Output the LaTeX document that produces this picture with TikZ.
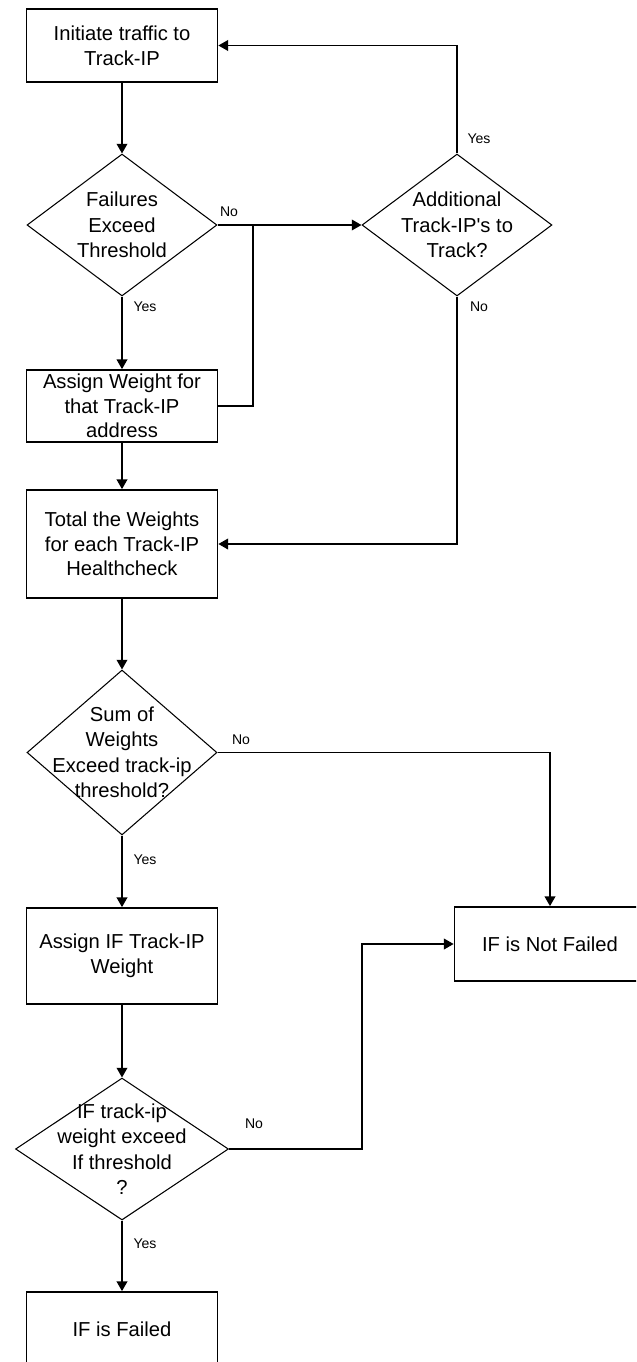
\documentclass[tikz,border=0pt]{standalone}
\usepackage{fontspec}
\setmainfont{Liberation Sans}
\usetikzlibrary{arrows.meta}
\usetikzlibrary{shapes.geometric}

\begin{document}
\begin{tikzpicture}[x=0.02cm,y=-0.02cm]
  \tikzset{%
  tipF/.tip={Triangle[length=5.5pt,width=6pt]},
}
  \tikzset{box/.style = {shape=rectangle,draw,line width=1pt,minimum width=3.82cm,inner sep=1pt,align=center,font=\fontsize{11.5}{14}\selectfont}}
  \tikzset{decision/.style = {shape=diamond,draw,line width=0.6pt,minimum width=3.8cm,minimum height=2.84cm,inner sep=0pt}}
  \tikzset{dtext/.style = {align=center,inner sep=0pt,font=\fontsize{11.5}{14.5}\selectfont}}
  \tikzset{yn/.style = {inner sep=1pt,font=\fontsize{8}{9}\selectfont}}
  \tikzset{edge/.style = {-tipF,line width=1pt}}

  \useasboundingbox (0,0) rectangle (636,1362);
  \clip (0,0) rectangle (636,1362);

	\node[box,minimum height=1.46cm] (IT) at (122,45.5) {Initiate traffic to\\Track-IP};
	\node[decision,label={[dtext]center:Failures\\Exceed\\Threshold}] (FE) at (122,225) {};
	\node[decision,label={[dtext]center:Additional\\Track-IP\textquotesingle s to\\Track?}] (AD) at (457,225) {};
	\node[box,minimum height=1.44cm] (AW) at (122,406) {Assign Weight for\\that Track-IP\\address};
	\node[box,minimum height=2.16cm] (TW) at (122,544) {Total the Weights\\for each Track-IP\\Healthcheck};

	\node[decision,minimum height=3.3cm,label={[dtext]center:Sum of\\Weights\\Exceed track-ip\\threshold?}] (SW) at (122,752.5) {};
	\node[box,minimum height=1.92cm] (AI) at (122,956) {Assign IF Track-IP\\Weight};
	\node[decision,minimum width=4.26cm,label={[dtext]center:IF track-ip\\weight exceed\\If threshold\\?}] (IW) at (122,1149) {};
	\node[box,minimum height=1.48cm] (NF) at (550,944) {IF is Not Failed};
	\node[box,minimum height=1.48cm] (FL) at (122,1329) {IF is Failed};

	\coordinate (J1) at (253,225);
	\coordinate (J2) at (362,944);

	\node[yn] (N1) at (229,212) {No};
	\node[yn] (Y1) at (145,307) {Yes};
	\node[yn] (Y2) at (479,139) {Yes};
	\node[yn] (N2) at (479,307) {No};
	\node[yn] (N3) at (241,740) {No};
	\node[yn] (Y3) at (145,860) {Yes};
	\node[yn] (N4) at (254,1124) {No};
	\node[yn] (Y4) at (145,1244) {Yes};

    \foreach \from/\to in {IT/FE, FE/AW, AW/TW, TW/SW, SW/AI, AI/IW, IW/FL}
    \draw[edge] (\from.south) -- (\to.north);

    \draw[edge] (FE.east) -- (AD.west);
    \draw[line width=1pt] (AW.east) -| (J1);
    \draw[edge] (AD.north) |- (IT.east);
    \draw[edge] (AD.south) |- (TW.east);
    \draw[edge] (SW.east) -| (NF.north);
    \draw[edge] (IW.east) -| (J2) -- (NF.west);

\end{tikzpicture}
\end{document}
